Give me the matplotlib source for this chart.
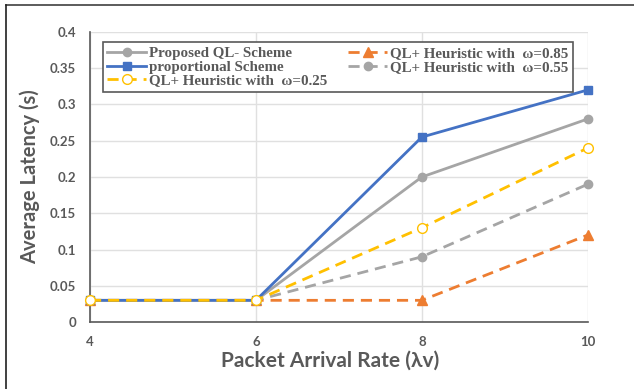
import matplotlib.pyplot as plt
from matplotlib.lines import Line2D

rate = [4, 6, 8, 10]
ql_minus = [0.03, 0.03, 0.20, 0.28]
proportional = [0.03, 0.03, 0.255, 0.32]
w025 = [0.03, 0.03, 0.13, 0.24]
w085 = [0.03, 0.03, 0.03, 0.12]
w055 = [0.03, 0.03, 0.09, 0.19]
yticks = [0, 0.05, 0.1, 0.15, 0.2, 0.25, 0.3, 0.35, 0.4]
ytick_labels = ['0', '0.05', '0.1', '0.15', '0.2', '0.25', '0.3', '0.35', '0.4']

txt = '#595959'

fig = plt.figure(figsize=(6.34, 3.89), dpi=100)
ax = fig.add_axes([0.142, 0.172, 0.785, 0.746])

dash = (0, (4, 2.5))
ax.plot(rate, ql_minus, color='#A5A5A5', lw=2, marker='o', ms=6, label='Proposed QL- Scheme',
        zorder=4, clip_on=False)
ax.plot(rate, proportional, color='#4472C4', lw=2, marker='s', ms=6, label='proportional Scheme',
        zorder=5, clip_on=False)
ax.plot(rate, w025, color='#FFC000', lw=2, ls=dash, marker='o', ms=7,
        mfc='white', mec='#FFC000', label='QL+ Heuristic with  ω=0.25', zorder=6, clip_on=False)
ax.plot(rate, w085, color='#ED7D31', lw=2, ls=dash, marker='^', ms=7,
        label='QL+ Heuristic with  ω=0.85', zorder=3, clip_on=False)
ax.plot(rate, w055, color='#A5A5A5', lw=2, ls=dash, marker='o', ms=6,
        label='QL+ Heuristic with  ω=0.55', zorder=3, clip_on=False)

ax.set_xlim(4, 10)
ax.set_ylim(0, 0.4)
ax.set_xticks(rate)
ax.set_yticks(yticks)
ax.set_yticklabels(ytick_labels)
ax.grid(True, color='#E0E0E0', lw=1)
ax.set_axisbelow(True)
for s in ['top', 'right']:
    ax.spines[s].set_visible(False)
for s in ['left', 'bottom']:
    ax.spines[s].set_color('#595959')
    ax.spines[s].set_linewidth(1.2)
ax.tick_params(length=0, pad=10, labelcolor=txt)
for lab in ax.get_xticklabels() + ax.get_yticklabels():
    lab.set_fontfamily('Lato')
    lab.set_fontweight('bold')
    lab.set_fontsize(9.5)

ax.set_xlabel('Packet Arrival Rate (λv)', fontsize=15, fontweight='bold', color=txt,
              family=['Lato', 'DejaVu Sans'])
ax.xaxis.set_label_coords(0.482, -0.10)
ax.set_ylabel('Average Latency (s)', fontsize=14.5, fontweight='bold', color=txt,
              family='Lato', labelpad=7)

leg = ax.legend(ncol=2, loc='upper left', bbox_to_anchor=(0.01, 0.99), frameon=True,
                fancybox=False, edgecolor='#595959', framealpha=1,
                prop={'family': 'Liberation Serif', 'weight': 'bold', 'size': 10.8},
                handlelength=2.6, handletextpad=0.2, columnspacing=1.4,
                labelspacing=0.0, borderpad=0.3)
leg.get_frame().set_linewidth(1.2)
for t in leg.get_texts():
    t.set_color(txt)

# outer frame lines (top and left)
fig.add_artist(Line2D([6 / 634, 1], [1 - 5 / 389, 1 - 5 / 389], color='#404040', lw=1.2))
fig.add_artist(Line2D([6 / 634, 6 / 634], [0, 1 - 5 / 389], color='#202020', lw=1.2))

fig.savefig('out.png', dpi=100)
